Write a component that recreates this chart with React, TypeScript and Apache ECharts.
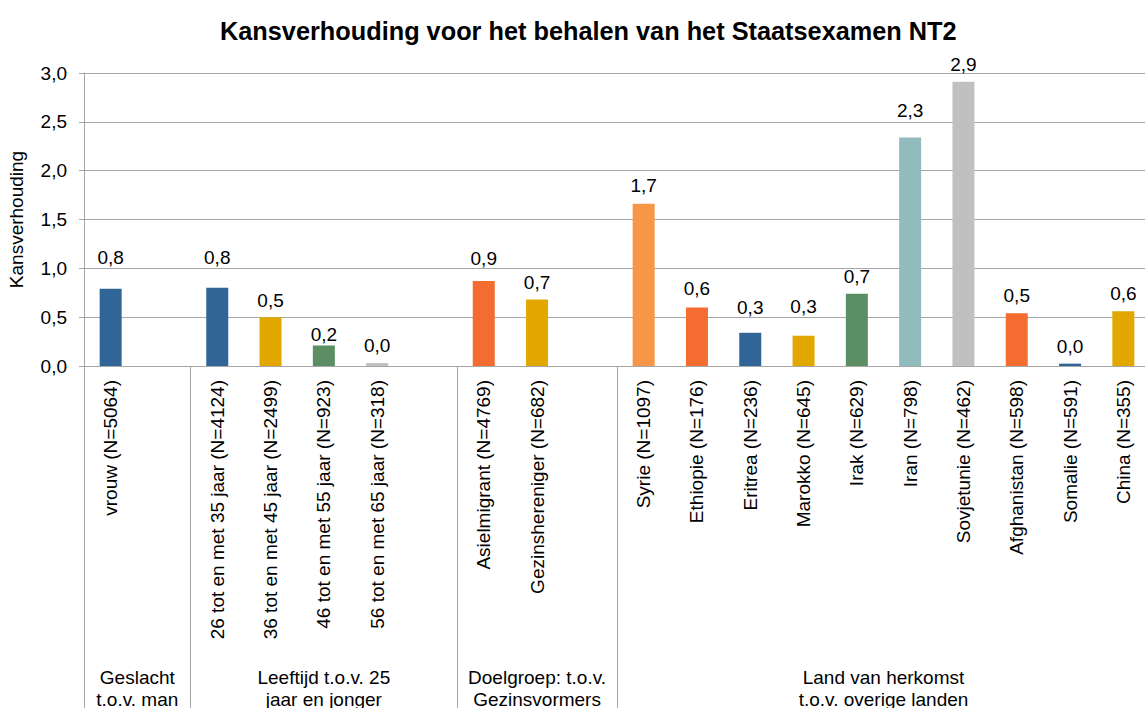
import React, { useEffect, useRef } from "react";
import * as echarts from "echarts";

const categories = [
  "vrouw (N=5064)",
  " ",
  "26 tot en met 35 jaar (N=4124)",
  "36 tot en met 45 jaar (N=2499)",
  "46 tot en met 55 jaar (N=923)",
  "56 tot en met 65 jaar (N=318)",
  "  ",
  "Asielmigrant (N=4769)",
  "Gezinshereniger (N=682)",
  "   ",
  "Syrie (N=1097)",
  "Ethiopie (N=176)",
  "Eritrea (N=236)",
  "Marokko (N=645)",
  "Irak (N=629)",
  "Iran (N=798)",
  "Sovjetunie (N=462)",
  "Afghanistan (N=598)",
  "Somalie (N=591)",
  "China (N=355)",
];

const values: (number | null)[] = [
  0.79, null, 0.8, 0.5, 0.21, 0.03, null, 0.87, 0.68, null,
  1.66, 0.6, 0.34, 0.31, 0.74, 2.34, 2.91, 0.54, 0.024, 0.56,
];

const yTicks = ["0,0", "0,5", "1,0", "1,5", "2,0", "2,5", "3,0"];

const groups = [
  { label: "Geslacht\nt.o.v. man", from: 0, to: 1 },
  { label: "Leeftijd t.o.v. 25\njaar en jonger", from: 2, to: 6 },
  { label: "Doelgroep: t.o.v.\nGezinsvormers", from: 7, to: 9 },
  { label: "Land van herkomst\nt.o.v. overige landen", from: 10, to: 19 },
];

// styling (not data)
const BLUE = "#326597";
const YELLOW = "#E2A800";
const GREEN = "#5B8E63";
const LGREY = "#C0C0C0";
const ORANGE = "#F46C2F";
const LORANGE = "#F79646";
const TEAL = "#92BBBE";
const barColors = [
  BLUE, null, BLUE, YELLOW, GREEN, LGREY, null, ORANGE, YELLOW, null,
  LORANGE, ORANGE, BLUE, YELLOW, GREEN, TEAL, LGREY, ORANGE, BLUE, YELLOW,
];
const labelLift = [22, 0, 21, 7, 1, 8, 0, 13, 8, 0, 9, 9, 16, 20, 8, 17, 8, 8, 8, 8];

const GRID_COLOR = "#A6A6A6";
const FONT = "'Liberation Sans', Arial, sans-serif";
const FS = 19;

export default function App() {
  const ref = useRef<HTMLDivElement>(null);
  useEffect(() => {
    if (!ref.current) return;
    const chart = echarts.init(ref.current, undefined, { renderer: "svg" });
    const sepSet = new Set(groups.map((g) => g.from));
    chart.setOption({
      animation: false,
      backgroundColor: "#ffffff",
      textStyle: { fontFamily: FONT },
      title: {
        text: "Kansverhouding voor het behalen van het Staatsexamen NT2",
        left: 215,
        top: 13,
        textStyle: { fontFamily: FONT, fontSize: 25.3, fontWeight: "bold", color: "#000" },
      },
      grid: { left: 84, top: 73, width: 1066, height: 293, outerBoundsMode: "none" },
      xAxis: {
        type: "category",
        data: categories,
        boundaryGap: true,
        axisLine: { show: true, lineStyle: { color: GRID_COLOR, width: 1 } },
        axisTick: {
          show: true,
          length: 345,
          interval: (index: number) => sepSet.has(index),
          lineStyle: { color: GRID_COLOR, width: 1 },
        },
        axisLabel: {
          rotate: 90,
          interval: 0,
          margin: 14,
          fontSize: FS,
          color: "#000",
          fontFamily: FONT,
        },
      },
      yAxis: {
        type: "value",
        min: 0,
        max: 3,
        interval: 0.5,
        name: "Kansverhouding",
        nameLocation: "middle",
        nameGap: 58,
        nameTextStyle: { fontSize: FS, color: "#000", fontFamily: FONT },
        axisLine: { show: true, lineStyle: { color: GRID_COLOR, width: 1 } },
        axisTick: { show: true, length: 5, lineStyle: { color: GRID_COLOR } },
        axisLabel: {
          fontSize: FS,
          color: "#000",
          margin: 17,
          fontFamily: FONT,
          formatter: (v: number) => yTicks[Math.round(v * 2)] ?? String(v),
        },
        splitLine: { show: true, lineStyle: { color: GRID_COLOR, width: 1 } },
      },
      series: [
        {
          type: "bar",
          barWidth: 22,
          data: values.map((v, i) =>
            v === null
              ? "-"
              : {
                  value: v,
                  itemStyle: { color: barColors[i] },
                  label: { distance: labelLift[i] },
                }
          ),
          label: {
            show: true,
            position: "top",
            fontSize: FS,
            color: "#000",
            fontFamily: FONT,
            formatter: (p: any) => Number(p.value).toFixed(1).replace(".", ","),
          },
        },
      ],
    });

    const c0 = chart.convertToPixel({ xAxisIndex: 0 }, 0) as number;
    const c1 = chart.convertToPixel({ xAxisIndex: 0 }, 1) as number;
    const band = c1 - c0;
    const leftEdge = (i: number) => c0 + band * i - band / 2;
    chart.setOption({
      graphic: groups.map((g) => ({
        type: "text",
        x: (leftEdge(g.from) + leftEdge(g.to + 1)) / 2,
        y: 666,
        style: {
          text: g.label,
          fontSize: FS,
          lineHeight: 22,
          fontFamily: FONT,
          fill: "#000",
          align: "center",
          verticalAlign: "top",
        },
      })),
    });

    return () => chart.dispose();
  }, []);
  return (
    <div
      ref={ref}
      style={{ position: "fixed", left: 0, top: 0, width: 1145, height: 708 }}
    />
  );
}
